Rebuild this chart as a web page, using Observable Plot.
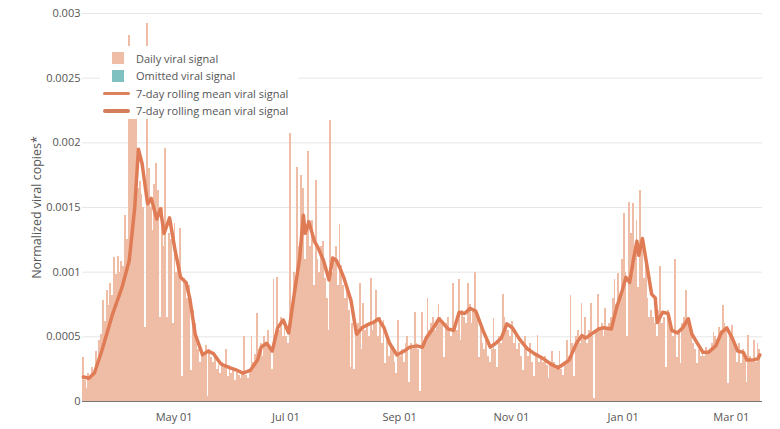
<!DOCTYPE html>
<html>
<head>
<meta charset="utf-8">
<script src="https://cdn.jsdelivr.net/npm/d3@7"></script>
<script src="https://cdn.jsdelivr.net/npm/@observablehq/plot@0.6"></script>
<style>
  html, body { margin: 0; padding: 0; background: #fff; }
  #wrap { position: relative; width: 780px; height: 429px; font-family: "Open Sans", sans-serif; }
  #legend { position: absolute; left: 100px; top: 46px; width: 198px; height: 73px; background: #fff; }
  .item { position: absolute; left: 0; height: 18px; display: flex; align-items: center; font-size: 11px; color: #555; white-space: nowrap; }
  .sw { position: absolute; }
  .lab { position: absolute; left: 36px; }
</style>
</head>
<body>
<div id="wrap">
  <div id="chart"></div>
  <div id="legend"></div>
</div>
<script>
// ---- data ----
const startDate = "2022-03-12";   // first daily sample
const endDate = "2023-03-18";     // end of x domain (after last sample)

// daily normalized viral copies, one per day from startDate
const dailySignal = [
  .00034,.00016,.00010,.00022,.00018,.00026,.00020,.00039,.00030,.00047,
  .00052,.00078,.00062,.00086,.00074,.00091,.00082,.00111,.00098,.00112,
  .00100,.00108,.00104,.00144,.00125,.00283,.00228,.00235,.00222,.00230,
  .00165,.00170,.00160,.00150,.00057,.00292,.00180,.00150,.00132,.00168,
  .00184,.00163,.00065,.00150,.00120,.00196,.00065,.00130,.00125,.00060,
  .00138,.00100,.00110,.00134,.00019,.00095,.00088,.00080,.00090,.00024,
  .00070,.00060,.00045,.00040,.00030,.00038,.00035,.00043,.00004,.00040,
  .00034,.00030,.00036,.00025,.00028,.00022,.00030,.00026,.00040,.00019,
  .00028,.00022,.00026,.00016,.00024,.00020,.00018,.00022,.00050,.00020,
  .00018,.00025,.00050,.00030,.00036,.00068,.00040,.00045,.00035,.00050,
  .00045,.00055,.00040,.00025,.00094,.00045,.00096,.00055,.00065,.00050,
  .00060,.00050,.00045,.00207,.00070,.00100,.00090,.00181,.00120,.00175,
  .00165,.00110,.00130,.00193,.00120,.00140,.00090,.00171,.00110,.00100,
  .00120,.00124,.00095,.00080,.00055,.00217,.00100,.00110,.00120,.00090,
  .00137,.00105,.00090,.00080,.00085,.00070,.00026,.00060,.00025,.00050,
  .00060,.00091,.00040,.00076,.00055,.00060,.00050,.00095,.00055,.00060,
  .00086,.00050,.00065,.00045,.00063,.00029,.00050,.00035,.00045,.00040,
  .00030,.00022,.00063,.00035,.00040,.00030,.00045,.00050,.00015,.00045,
  .00040,.00069,.00045,.00040,.00008,.00069,.00045,.00050,.00080,.00055,
  .00060,.00065,.00055,.00060,.00075,.00065,.00060,.00034,.00060,.00065,
  .00055,.00050,.00091,.00060,.00055,.00094,.00047,.00070,.00065,.00060,
  .00091,.00075,.00060,.00070,.00100,.00065,.00034,.00060,.00045,.00040,
  .00050,.00035,.00030,.00040,.00064,.00040,.00026,.00050,.00045,.00083,
  .00065,.00060,.00055,.00050,.00062,.00045,.00050,.00040,.00045,.00035,
  .00024,.00050,.00040,.00035,.00045,.00030,.00019,.00035,.00051,.00030,
  .00035,.00030,.00035,.00028,.00018,.00030,.00039,.00030,.00025,.00028,
  .00039,.00025,.00020,.00030,.00047,.00035,.00082,.00045,.00019,.00050,
  .00055,.00045,.00076,.00050,.00065,.00045,.00055,.00076,.00050,.00002,
  .00055,.00083,.00055,.00060,.00050,.00072,.00055,.00060,.00065,.00080,
  .00094,.00075,.00099,.00080,.00110,.00145,.00100,.00050,.00154,.00130,
  .00153,.00120,.00140,.00088,.00163,.00120,.00095,.00110,.00080,.00065,
  .00070,.00065,.00060,.00050,.00070,.00104,.00060,.00065,.00026,.00070,
  .00060,.00055,.00050,.00110,.00034,.00055,.00029,.00060,.00065,.00086,
  .00060,.00055,.00050,.00045,.00040,.00029,.00040,.00035,.00040,.00035,
  .00042,.00038,.00040,.00045,.00053,.00050,.00048,.00057,.00055,.00074,
  .00060,.00055,.00014,.00050,.00059,.00045,.00040,.00030,.00045,.00029,
  .00040,.00035,.00015,.00051,.00035,.00030,.00047,.00030,.00045,.00040
];

// 7-day rolling mean, read at these day offsets from startDate
const meanDay = [0,3,6,10,16,21,25,28,30,32,35,37,40,42,44,47,50,53,56,58,61,65,68,71,75,80,84,87,91,95,97,100,103,106,109,112,115,118,120,121,123,126,128,131,134,136,138,140,142,146,149,152,156,158,161,164,167,171,175,178,182,185,187,191,194,196,199,202,205,208,211,214,218,222,225,228,231,234,238,242,246,251,255,259,262,265,269,272,274,277,281,284,288,291,294,296,298,300,302,303,305,307,310,312,313,316,319,321,324,327,330,332,335,338,341,345,348,351,354,357,360,362,365,368,369];
const meanValue = [.00019,.00018,.00022,.00039,.00068,.00088,.00109,.0015,.00195,.00184,.00153,.00157,.00141,.00149,.0013,.00142,.00117,.00096,.00092,.0008,.00052,.00036,.00039,.00037,.00029,.00026,.00024,.00022,.00024,.00032,.00042,.00045,.00039,.00057,.00063,.00053,.00083,.00111,.00144,.0013,.00139,.00124,.00119,.00109,.00094,.00111,.00109,.00103,.00096,.00078,.00052,.00057,.0006,.00061,.00064,.00057,.00045,.00036,.00039,.00042,.00043,.00042,.00049,.00057,.00064,.00061,.00056,.00055,.00069,.00068,.00072,.0007,.00055,.00042,.00045,.00049,.0006,.00057,.00048,.00041,.00037,.00033,.00029,.00026,.00029,.00032,.00045,.00051,.00049,.00052,.00056,.00057,.00056,.00073,.00086,.00096,.00092,.00109,.00124,.00113,.00126,.00109,.00083,.0008,.00061,.00069,.00068,.00055,.00053,.00057,.00064,.00052,.00045,.00038,.00038,.00043,.00053,.00057,.00049,.00039,.00038,.00032,.00032,.00033,.00036];

const xTickDates = ["2022-05-01","2022-07-01","2022-09-01","2022-11-01","2023-01-01","2023-03-01"];
const xTickLabels = ["May 01","Jul 01","Sep 01","Nov 01","Jan 01","Mar 01"];
const yTickValues = [0, 0.0005, 0.001, 0.0015, 0.002, 0.0025, 0.003];
const yTickLabels = ["0","0.0005","0.001","0.0015","0.002","0.0025","0.003"];

const legendItems = [
  {label: "Daily viral signal", kind: "square", color: "#efbda6"},
  {label: "Omitted viral signal", kind: "square", color: "#7fc0c1"},
  {label: "7-day rolling mean viral signal", kind: "line", color: "#dc825e"},
  {label: "7-day rolling mean viral signal", kind: "line", color: "#d27e5c"}
];

// ---- build ----
const start = new Date(startDate + "T00:00:00Z");
const daily = dailySignal.map((v, i) => ({
  x1: d3.utcDay.offset(start, i),
  x2: d3.utcDay.offset(start, i + 1),
  v
}));
const mean = meanDay.map((d, i) => ({
  date: d3.utcHour.offset(d3.utcDay.offset(start, d), 12),
  v: meanValue[i]
}));
const xTicks = xTickDates.map(s => new Date(s + "T00:00:00Z"));
const xLab = new Map(xTicks.map((d, i) => [+d, xTickLabels[i]]));
const yLab = new Map(yTickValues.map((d, i) => [d, yTickLabels[i]]));

const chart = Plot.plot({
  width: 780,
  height: 429,
  marginLeft: 82,
  marginRight: 18,
  marginTop: 13,
  marginBottom: 28,
  style: {fontFamily: "Open Sans, sans-serif", fontSize: "11px", color: "#555", background: "#fff"},
  x: {type: "utc", domain: [start, new Date(endDate + "T00:00:00Z")]},
  y: {domain: [0, 0.003]},
  marks: [
    Plot.gridY(yTickValues, {stroke: "#e6e6e6", strokeOpacity: 1}),
    Plot.rect(daily, {x1: "x1", x2: "x2", y1: 0, y2: "v", fill: "#efbda6", shapeRendering: "crispEdges"}),
    Plot.ruleY([0], {stroke: "#777", strokeWidth: 1}),
    Plot.line(mean, {x: "date", y: "v", stroke: "#e07c55", strokeWidth: 3.5, strokeLinejoin: "round"}),
    Plot.axisY(yTickValues, {tickSize: 0, tickPadding: 2, tickFormat: d => yLab.get(d), label: "Normalized viral copies*", labelAnchor: "center", labelArrow: "none", labelOffset: 50, fontSize: 11}),
    Plot.axisX(xTicks, {tickSize: 0, tickPadding: 12, tickFormat: d => xLab.get(+d), label: null, fontSize: 11})
  ]
});
document.getElementById("chart").appendChild(chart);

// style the axis label a bit larger
chart.querySelectorAll("g[aria-label='y-axis label'] text").forEach(t => t.setAttribute("font-size", "12.5"));

// legend
const lg = document.getElementById("legend");
legendItems.forEach((it, i) => {
  const row = document.createElement("div");
  row.className = "item";
  row.style.top = (3 + i * 17.5) + "px";
  row.style.width = "198px";
  const sw = document.createElement("div");
  sw.className = "sw";
  if (it.kind === "square") {
    sw.style.left = "12px"; sw.style.top = "3px";
    sw.style.width = "12px"; sw.style.height = "12px";
    sw.style.background = it.color;
  } else {
    sw.style.left = "3px"; sw.style.top = "7.5px";
    sw.style.width = "27px"; sw.style.height = "3.5px";
    sw.style.borderRadius = "2px";
    sw.style.background = it.color;
  }
  const lab = document.createElement("span");
  lab.className = "lab";
  lab.textContent = it.label;
  row.appendChild(sw);
  row.appendChild(lab);
  lg.appendChild(row);
});
</script>
</body>
</html>
